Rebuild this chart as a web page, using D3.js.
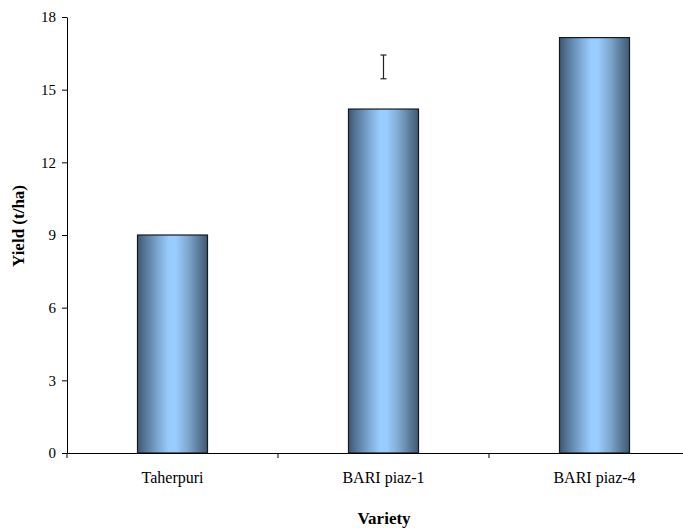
<!DOCTYPE html>
<html><head><meta charset="utf-8">
<script src="https://cdn.jsdelivr.net/npm/d3@7"></script>
<style>body{margin:0;background:#fff}svg{display:block}</style>
</head><body>
<script>
const categories = ["Taherpuri", "BARI piaz-1", "BARI piaz-4"];
const yieldValues = [9.0, 14.2, 17.15];
const errLow = [null, 15.45, null];
const errHigh = [null, 16.43, null];
const yTicks = [0, 3, 6, 9, 12, 15, 18];

(function () {
const W = 683, H = 528;
const svg = d3.select("body").append("svg").attr("width", W).attr("height", H);
const mLeft = 67, mTop = 17, mBottom = 453, mRight = 700;
const x = d3.scaleBand().domain(categories).range([mLeft, mRight]).paddingInner(0).paddingOuter(0);
const y = d3.scaleLinear().domain([0, 18]).range([mBottom, mTop]);

const defs = svg.append("defs");
const g = defs.append("linearGradient").attr("id", "bg").attr("x1", "0").attr("x2", "1").attr("y1", "0").attr("y2", "0");
[[0, "#3f5671"], [0.12, "#587a9c"], [0.3, "#7ea9d4"], [0.45, "#99ccff"], [0.55, "#99ccff"], [0.72, "#7fa8d0"], [0.88, "#5a7a99"], [1, "#415872"]]
  .forEach(([o, c]) => g.append("stop").attr("offset", o).attr("stop-color", c));

const barW = 70;
svg.selectAll("rect.bar").data(categories).enter().append("rect")
  .attr("class", "bar")
  .attr("x", d => x(d) + x.bandwidth() / 2 - barW / 2)
  .attr("width", barW)
  .attr("y", (d, i) => y(yieldValues[i]))
  .attr("height", (d, i) => y(0) - y(yieldValues[i]))
  .attr("fill", "url(#bg)")
  .attr("stroke", "#151a20").attr("stroke-width", 1.2);

categories.forEach((c, i) => {
  if (errLow[i] == null) return;
  const cx = x(c) + x.bandwidth() / 2;
  const eg = svg.append("g").attr("stroke", "#222").attr("stroke-width", 1.2);
  eg.append("line").attr("x1", cx).attr("x2", cx).attr("y1", y(errLow[i])).attr("y2", y(errHigh[i]));
  eg.append("line").attr("x1", cx - 3).attr("x2", cx + 3).attr("y1", y(errLow[i])).attr("y2", y(errLow[i]));
  eg.append("line").attr("x1", cx - 3).attr("x2", cx + 3).attr("y1", y(errHigh[i])).attr("y2", y(errHigh[i]));
});

const font = "'Liberation Serif', 'DejaVu Serif', serif";
const yAxis = svg.append("g").attr("transform", `translate(${mLeft},0)`)
  .call(d3.axisLeft(y).tickValues(yTicks).tickSize(5).tickSizeOuter(0).tickPadding(6));
yAxis.selectAll("text").attr("font-family", font).attr("font-size", 15).attr("fill", "#000");
yAxis.selectAll("line,path").attr("stroke", "#000");

const xAxis = svg.append("g").attr("transform", `translate(0,${mBottom})`)
  .call(d3.axisBottom(x).tickSize(0).tickSizeOuter(0).tickPadding(19));
xAxis.select("path").attr("stroke", "#000");
xAxis.selectAll("text").attr("font-family", font).attr("font-size", 16).attr("fill", "#000");
const bounds = categories.map(c => x(c));
svg.selectAll("line.bt").data(bounds).enter().append("line")
  .attr("x1", d => d).attr("x2", d => d).attr("y1", mBottom).attr("y2", mBottom + 5)
  .attr("stroke", "#000");

svg.append("text").attr("x", 384).attr("y", 524).attr("text-anchor", "middle")
  .attr("font-family", font).attr("font-weight", "bold").attr("font-size", 17).text("Variety");
svg.append("text").attr("transform", "translate(24,226) rotate(-90)").attr("text-anchor", "middle")
  .attr("font-family", font).attr("font-weight", "bold").attr("font-size", 17).text("Yield (t/ha)");
})();
</script>
</body></html>
